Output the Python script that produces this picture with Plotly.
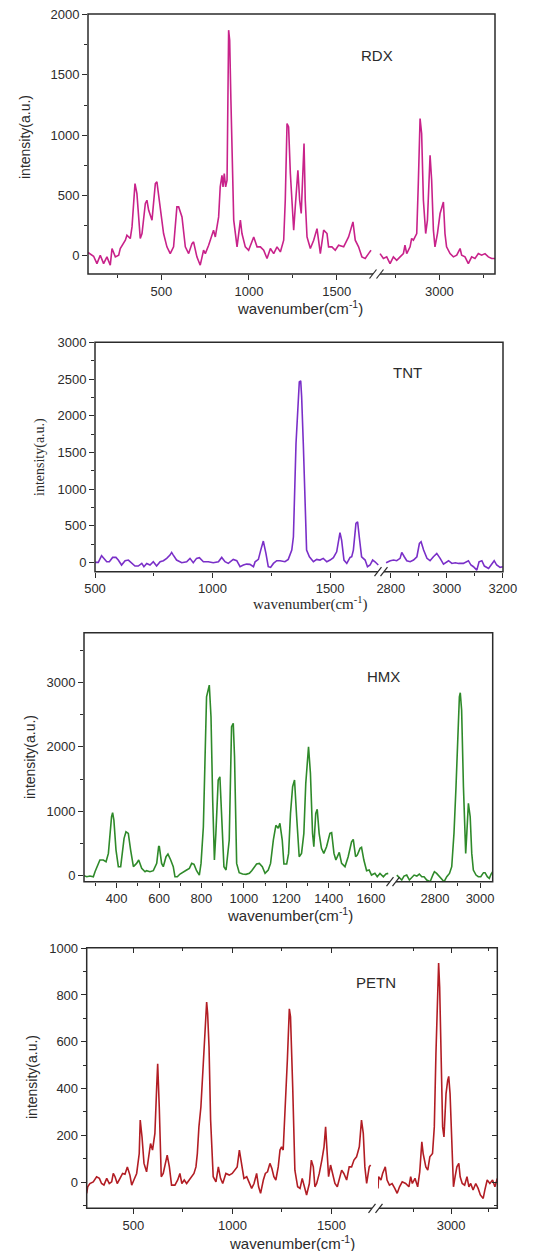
import plotly.graph_objects as go

W, H = 534, 1243      # page is offset by the browser's 8px body margin
OFF = 8

# ---------------- data ----------------
# RDX
rdx_x_low = [82, 114, 133, 152, 171, 190, 209, 219, 238, 257, 266, 295, 304, 323, 333, 342, 350, 361, 371, 380,
             390, 409, 418, 428, 447, 466, 475, 490, 513, 532, 551, 570, 589, 599, 618, 637, 656, 675, 684, 703,
             722, 741, 751, 770, 789, 798, 808, 827, 836, 846, 852, 859, 867, 875, 884, 890, 897, 903, 913, 932,
             951, 960, 979, 998, 1027, 1046, 1065, 1084, 1103, 1122, 1141, 1160, 1179, 1198, 1207, 1217, 1226, 1236, 1255, 1264,
             1279, 1289, 1298, 1314, 1321, 1331, 1350, 1369, 1388, 1407, 1426, 1445, 1454, 1473, 1492, 1511, 1540, 1568, 1593, 1606,
             1625, 1644, 1663, 1682, 1696]
rdx_y_low = [28, -3, -64, 6, -64, -8, -77, 61, -8, 6, 61, 130, 171, 144, 240, 461, 599, 516, 323, 144,
             185, 434, 461, 378, 296, 599, 613, 461, 185, 75, 19, 75, 406, 406, 323, 75, 19, 102, 116, -8,
             -77, 47, 19, 88, 185, 213, 157, 323, 572, 668, 572, 682, 572, 627, 1870, 1787, 1290, 793, 296, 75,
             296, 185, 75, 47, 157, 75, 75, 47, -22, 61, 19, 75, 33, 130, 461, 1097, 1069, 682, 213, 406,
             710, 461, 351, 931, 461, 157, 61, 130, 226, 19, 213, 185, 75, 75, 47, 88, 75, 157, 282, 130,
             75, -8, -22, 19, 47]
rdx_x_high = [2662, 2681, 2700, 2719, 2738, 2757, 2776, 2795, 2804, 2814, 2833, 2842, 2852, 2861, 2871, 2880, 2890, 2899, 2909, 2922,
              2932, 2947, 2956, 2966, 2975, 2989, 3004, 3023, 3032, 3041, 3061, 3080, 3099, 3118, 3127, 3146, 3165, 3184, 3203, 3222,
              3241, 3260, 3279, 3298, 3317]
rdx_y_high = [19, -22, -8, -64, -8, -36, -8, 19, 88, 19, 75, 144, 130, 157, 185, 599, 1138, 1014, 461, 185,
              296, 834, 627, 213, 75, 185, 351, 447, 185, 75, 19, -8, 6, 61, 6, -8, -64, -8, -22, 19,
              6, 19, -8, -22, -22]

# TNT
tnt_x_low = [500, 514, 528, 538, 550, 561, 575, 589, 599, 613, 628, 642, 656, 670, 684, 699, 708, 720, 734, 748,
             762, 777, 791, 805, 819, 826, 833, 847, 869, 890, 904, 918, 932, 944, 961, 982, 1003, 1025, 1039, 1053,
             1067, 1088, 1103, 1117, 1131, 1145, 1159, 1174, 1181, 1195, 1205, 1216, 1227, 1237, 1247, 1259, 1273, 1287, 1308, 1322,
             1337, 1344, 1355, 1365, 1369, 1375, 1379, 1386, 1393, 1400, 1412, 1429, 1443, 1457, 1471, 1486, 1500, 1514, 1528, 1535,
             1542, 1549, 1559, 1571, 1585, 1592, 1599, 1610, 1617, 1624, 1634, 1649, 1659, 1670, 1681, 1691, 1705]
tnt_y_low = [0, 0, 91, 55, 9, 9, 68, 68, 32, -36, 23, 32, -14, -50, -50, -14, -59, -14, -36, 9,
             -50, 9, 23, 55, 100, 136, 100, 32, -5, 9, 55, -5, 55, 64, 9, 9, -5, 9, 68, 9,
             -14, 41, 23, -59, -36, -23, -27, -59, 9, 41, 168, 291, 123, -59, -68, -14, 23, 23, 9, 41,
             168, 350, 1623, 2213, 2463, 2477, 2259, 1623, 714, 168, 77, 9, 41, 32, 55, 9, 32, 64, 145, 305,
             405, 305, 32, -14, 68, 77, 168, 532, 555, 350, 77, 32, -59, -36, 32, 9, -36]
tnt_x_high = [2783, 2798, 2810, 2821, 2833, 2839, 2848, 2857, 2869, 2881, 2893, 2902, 2908, 2917, 2929, 2940, 2952, 2964, 2976, 2988,
              3006, 3018, 3030, 3042, 3059, 3077, 3086, 3095, 3107, 3115, 3125, 3134, 3149, 3161, 3169, 3178, 3190, 3200]
tnt_y_high = [-5, 23, 32, 23, 55, 136, 77, 23, 9, 32, 77, 259, 282, 168, 55, 23, 77, 123, 55, -23,
              23, -14, -5, -14, -14, 23, -36, -59, -105, 9, 23, -50, -82, -14, 23, -36, -68, -59]

# HMX
hmx_x_low = [246, 259, 274, 290, 298, 309, 321, 337, 350, 361, 369, 376, 381, 387, 397, 408, 419, 428, 435, 444,
             455, 466, 479, 494, 504, 518, 534, 541, 557, 573, 589, 598, 601, 612, 620, 633, 642, 655, 667, 675,
             686, 699, 714, 730, 743, 754, 765, 777, 790, 798, 809, 817, 824, 837, 845, 853, 861, 868, 879, 887,
             897, 906, 916, 931, 942, 950, 956, 966, 978, 994, 1010, 1026, 1037, 1049, 1060, 1073, 1087, 1100, 1115, 1126,
             1139, 1151, 1162, 1170, 1181, 1189, 1202, 1211, 1220, 1230, 1239, 1249, 1261, 1272, 1283, 1292, 1299, 1305, 1314, 1324,
             1330, 1339, 1346, 1355, 1366, 1377, 1390, 1406, 1414, 1425, 1434, 1450, 1461, 1477, 1492, 1508, 1516, 1527, 1535, 1548,
             1555, 1566, 1579, 1591, 1602, 1618, 1629, 1642, 1658, 1670, 1681]
hmx_y_low = [0, -16, -5, -16, 62, 165, 243, 243, 217, 346, 657, 915, 977, 863, 398, 140, 140, 346, 579, 682,
             657, 398, 140, 191, 243, 114, 62, 78, 62, 78, 191, 450, 460, 191, 140, 295, 336, 243, 140, -16,
             -16, 26, 62, 88, 114, 191, 176, 78, 10, 191, 760, 1949, 2776, 2957, 2466, 1174, 243, 657, 1484, 1535,
             915, 140, 88, 553, 2311, 2363, 1846, 191, 47, 26, 21, 36, 78, 140, 181, 191, 140, 36, 88, 191,
             553, 781, 735, 812, 553, 181, 181, 346, 967, 1380, 1484, 915, 295, 346, 657, 1432, 1768, 2000, 1587, 657,
             450, 967, 1029, 657, 424, 346, 450, 657, 667, 346, 243, 362, 191, 140, 295, 527, 564, 295, 320, 424,
             439, 243, 78, 88, 10, 36, -16, 36, -16, 26, 36]
hmx_x_high = [2630, 2642, 2652, 2662, 2674, 2686, 2696, 2707, 2719, 2730, 2741, 2751, 2763, 2778, 2790, 2797, 2807, 2819, 2830, 2840,
              2852, 2864, 2874, 2884, 2893, 2901, 2908, 2912, 2918, 2926, 2932, 2936, 2941, 2948, 2956, 2963, 2970, 2982, 2992, 3003,
              3015, 3022, 3032, 3041, 3049, 3056]
hmx_y_high = [10, -26, -67, -5, 10, -67, -26, 10, -5, 26, -16, -16, -67, -93, 10, 62, 36, -16, -57, -93,
              -16, 36, 140, 657, 1380, 2311, 2776, 2838, 2569, 1380, 501, 346, 657, 1122, 915, 346, 88, 10, -16, -16,
              47, 47, -16, -41, 26, 62]

# PETN
petn_x_low = [265, 270, 281, 298, 315, 329, 340, 352, 366, 379, 391, 399, 408, 419, 433, 446, 458, 470, 483, 492,
              503, 517, 530, 535, 544, 554, 567, 581, 587, 597, 609, 618, 623, 631, 641, 651, 663, 671, 682, 693,
              710, 724, 735, 745, 757, 769, 782, 794, 806, 816, 823, 831, 841, 853, 863, 870, 875, 882, 890, 903,
              917, 929, 940, 951, 967, 984, 999, 1013, 1024, 1035, 1046, 1058, 1072, 1085, 1097, 1109, 1122, 1132, 1142, 1156,
              1166, 1177, 1189, 1199, 1209, 1219, 1231, 1240, 1248, 1256, 1267, 1277, 1287, 1293, 1304, 1315, 1329, 1341, 1352, 1366,
              1374, 1388, 1398, 1408, 1416, 1425, 1438, 1451, 1462, 1470, 1478, 1485, 1495, 1505, 1517, 1529, 1539, 1551, 1562, 1576,
              1589, 1601, 1613, 1626, 1640, 1651, 1660, 1668, 1677, 1685, 1690, 1697]
petn_y_low = [-48, -20, -6, 1, 23, 16, -6, -13, 16, -6, 1, 37, 23, -6, 16, 37, 34, 65, 30, -13,
              9, 37, 122, 265, 193, 80, 44, 137, 165, 137, 208, 407, 506, 321, 23, 37, 94, 115, 65, -13,
              -13, 9, 37, -6, 9, -6, 9, 23, 37, 65, 122, 236, 321, 506, 649, 770, 720, 578, 265, 23,
              1, 65, 16, -6, 37, 30, 37, 54, 65, 137, 80, 16, 23, -6, -27, -6, 37, -20, -48, 9,
              37, 44, 80, 58, 23, 9, 65, 137, 151, 137, 321, 521, 741, 706, 407, 51, -20, -27, 16, -27,
              -55, -6, 94, 65, -20, -6, 37, 94, 151, 236, 122, 23, 73, 37, -6, -20, 9, 51, 37, 9,
              65, 65, 94, 108, 151, 265, 208, 65, -6, 37, 65, 73]
petn_x_high = [2508, 2512, 2528, 2539, 2557, 2569, 2585, 2603, 2621, 2637, 2653, 2671, 2694, 2716, 2728, 2739, 2757, 2775, 2789, 2796,
               2803, 2812, 2830, 2843, 2857, 2875, 2887, 2898, 2909, 2916, 2923, 2932, 2943, 2952, 2966, 2977, 2984, 2993, 3002, 3016,
               3027, 3039, 3052, 3061, 3075, 3091, 3107, 3120, 3132, 3148, 3166, 3182, 3197, 3216, 3227, 3243, 3261, 3279, 3295, 3311]
petn_y_high = [-27, 23, 9, 37, 65, 9, -13, -6, -27, -48, -20, 1, -6, -20, 23, -6, 16, -20, 44, 122,
               172, 122, 65, 51, 108, 122, 236, 549, 819, 936, 834, 478, 236, 193, 378, 435, 452, 378, 193, -20,
               23, 65, 80, 23, -6, -13, 23, -20, -6, -34, -6, -27, -55, -70, -34, 9, -6, 9, -20, 16]

names = ["RDX", "TNT", "HMX", "PETN"]

# ---------------- layout / styling ----------------
SANS = "Liberation Sans, Arial, sans-serif"
SERIF = "Liberation Serif, Times New Roman, serif"
INK = "#2b2b2b"

# positions below are page pixels (measured on the reference)
panels = [
    dict(color="#c8228a", xlo=rdx_x_low, ylo=rdx_y_low, xhi=rdx_x_high, yhi=rdx_y_high,
         box=(88, 495, 14, 274), dlo=(88, 374), dhi=(379, 495),
         rlo=[82, 1713], rhi=[2656, 3317], yr=[-150, 2004], ydt=500, ymn=250,
         xlo_t=(500, 250), xhi_t=(500, 250),
         label=(377, 55), ytitle=(25, 137), xtitle=(300, 307), serif=False, mirror=False),
    dict(color="#7a2fc8", xlo=tnt_x_low, ylo=tnt_y_low, xhi=tnt_x_high, yhi=tnt_y_high,
         box=(95, 503, 342.3, 571.7), dlo=(95, 379), dhi=(383, 503),
         rlo=[500, 1708], rhi=[2772, 3200.5], yr=[-127, 3004], ydt=500, ymn=250,
         xlo_t=(500, 250), xhi_t=(200, 100),
         label=(407, 372), ytitle=(40, 457), xtitle=(310, 603), serif=True, mirror=False),
    dict(color="#2f8a2a", xlo=hmx_x_low, ylo=hmx_y_low, xhi=hmx_x_high, yhi=hmx_y_high,
         box=(84, 492.7, 632.7, 881.7), dlo=(84, 391), dhi=(395, 492.7),
         rlo=[246, 1694], rhi=[2622, 3056], yr=[-93, 3770], ydt=1000, ymn=500,
         xlo_t=(200, 100), xhi_t=(200, 100),
         label=(383, 677), ytitle=(30, 757), xtitle=(290, 914), serif=False, mirror=False),
    dict(color="#b21d24", xlo=petn_x_low, ylo=petn_y_low, xhi=petn_x_high, yhi=petn_y_high,
         box=(86.7, 497.3, 947.7, 1208.3), dlo=(86.7, 373), dhi=(378, 497.3),
         rlo=[265, 1709], rhi=[2508, 3311], yr=[-112, 1002], ydt=200, ymn=100,
         xlo_t=(500, 250), xhi_t=(500, 250),
         label=(376, 982), ytitle=(32, 1077), xtitle=(292, 1242), serif=False, mirror=True),
]


def px(v):
    return (v - OFF) / W


def py(v):
    return 1 - (v - OFF) / H


fig = go.Figure()
layout = dict(width=W, height=H, autosize=False,
              margin=dict(l=0, r=0, t=0, b=0, pad=0, autoexpand=False),
              paper_bgcolor="white", plot_bgcolor="white", showlegend=False)
shapes, annotations = [], []

tickfont = dict(family=SANS, size=13, color=INK)
extra = 9  # next free axis number for mirrored tick axes

for i, p in enumerate(panels):
    na, nb, ny = 2 * i + 1, 2 * i + 2, i + 1
    xa = "x" if na == 1 else f"x{na}"
    xb = f"x{nb}"
    ya = "y" if ny == 1 else f"y{ny}"
    xa_key = "xaxis" if na == 1 else f"xaxis{na}"
    xb_key = f"xaxis{nb}"
    ya_key = "yaxis" if ny == 1 else f"yaxis{ny}"
    left, right, top, bottom = p["box"]

    fig.add_trace(go.Scatter(x=p["xlo"], y=p["ylo"], xaxis=xa, yaxis=ya, mode="lines",
                             line=dict(color=p["color"], width=1.6), name=names[i]))
    fig.add_trace(go.Scatter(x=p["xhi"], y=p["yhi"], xaxis=xb, yaxis=ya, mode="lines",
                             line=dict(color=p["color"], width=1.6), name=names[i]))

    common = dict(showgrid=False, zeroline=False, showline=False, ticks="outside", automargin=False,
                  ticklen=5, tickwidth=1.3, tickcolor=INK, tickfont=tickfont, tick0=0,
                  ticklabeloverflow="allow")

    def minor(d, where="outside"):
        return dict(ticks=where, ticklen=3, tickcolor=INK, dtick=d, tick0=0, showgrid=False)

    layout[ya_key] = dict(common, anchor=xa, domain=[py(bottom), py(top)], range=p["yr"],
                          dtick=p["ydt"], minor=minor(p["ymn"]))
    layout[xa_key] = dict(common, anchor=ya, domain=[px(p["dlo"][0]), px(p["dlo"][1])], range=p["rlo"],
                          dtick=p["xlo_t"][0], minor=minor(p["xlo_t"][1]))
    layout[xb_key] = dict(common, anchor=ya, domain=[px(p["dhi"][0]), px(p["dhi"][1])], range=p["rhi"],
                          dtick=p["xhi_t"][0], minor=minor(p["xhi_t"][1]))

    if p["mirror"]:
        # inward ticks on the top and right edges of the frame
        inner = dict(showgrid=False, zeroline=False, showline=False, ticks="inside", automargin=False,
                     ticklen=5, tickwidth=1.3, tickcolor=INK, showticklabels=False, tick0=0)
        yk = f"yaxis{ny + 4}"
        yr_name = f"y{ny + 4}"
        for src_name, rng, tk in ((xa, p["rlo"], p["xlo_t"]), (xb, p["rhi"], p["xhi_t"])):
            key = f"xaxis{extra}"
            layout[key] = dict(inner, overlaying=src_name, side="top", anchor=ya, range=rng,
                               dtick=tk[0], minor=minor(tk[1], "inside"))
            fig.add_trace(go.Scatter(x=[], y=[], xaxis=f"x{extra}", yaxis=ya, mode="lines",
                                     showlegend=False, hoverinfo="skip"))
            extra += 1
        layout[yk] = dict(inner, overlaying=ya, side="right", anchor=xb, range=p["yr"],
                          dtick=p["ydt"], minor=minor(p["ymn"], "inside"))
        fig.add_trace(go.Scatter(x=[], y=[], xaxis=xb, yaxis=yr_name, mode="lines",
                                 showlegend=False, hoverinfo="skip"))

    # frame
    shapes.append(dict(type="rect", xref="paper", yref="paper", x0=px(left), x1=px(right),
                       y0=py(bottom), y1=py(top), line=dict(color=INK, width=1.5), layer="above"))
    # axis break: gap + slashes
    c1, c2 = p["dlo"][1] - 1, p["dhi"][0] + 1
    shapes.append(dict(type="rect", xref="paper", yref="paper", x0=px(c1), x1=px(c2),
                       y0=py(bottom + 1.6), y1=py(bottom - 1.6), line=dict(width=0),
                       fillcolor="white", layer="above"))
    for c in (c1, c2):
        shapes.append(dict(type="line", xref="paper", yref="paper", x0=px(c - 3.5), x1=px(c + 3.5),
                           y0=py(bottom + 4.5), y1=py(bottom - 4.5), line=dict(color=INK, width=1.2),
                           layer="above"))

    tfam = SERIF if p["serif"] else SANS
    annotations.append(dict(xref="paper", yref="paper", x=px(p["label"][0]), y=py(p["label"][1]),
                            text=names[i], showarrow=False, xanchor="center", yanchor="middle",
                            font=dict(family=SANS, size=15, color=INK)))
    annotations.append(dict(xref="paper", yref="paper", x=px(p["ytitle"][0]), y=py(p["ytitle"][1]),
                            text="intensity(a.u.)", textangle=-90, showarrow=False,
                            xanchor="center", yanchor="middle",
                            font=dict(family=tfam, size=14, color=INK)))
    annotations.append(dict(xref="paper", yref="paper", x=px(p["xtitle"][0]), y=py(p["xtitle"][1]),
                            text="wavenumber(cm<sup>-1</sup>)", showarrow=False,
                            xanchor="center", yanchor="middle",
                            font=dict(family=tfam, size=15, color=INK)))

layout["shapes"] = shapes
layout["annotations"] = annotations
fig.update_layout(**layout)
fig.write_html("out.html")
